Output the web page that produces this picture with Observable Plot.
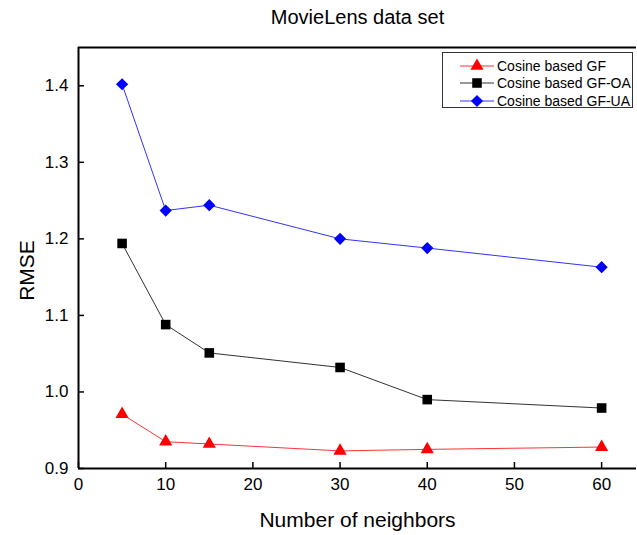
<!DOCTYPE html>
<html>
<head>
<meta charset="utf-8">
<script src="https://cdn.jsdelivr.net/npm/d3@7"></script>
<script src="https://cdn.jsdelivr.net/npm/@observablehq/plot@0.6"></script>
<style>
  html, body { margin: 0; padding: 0; background: #fff; }
  #wrap { position: relative; width: 637px; height: 535px; font-family: "Liberation Sans", Arial, sans-serif; }
  #title { height: 35px; line-height: 35px; text-align: center; font-size: 20px; padding-left: 78px; box-sizing: border-box; width: 637px; color: #000; }
  #legend { position: absolute; left: 442px; top: 52px; width: 191px; height: 56px; border: 1px solid #333; box-sizing: border-box; background: #fff; }
  .li { position: absolute; left: 17px; height: 17px; display: flex; align-items: center; font-size: 14px; color: #000; white-space: nowrap; }
  .li svg { margin-right: 3px; }
</style>
</head>
<body>
<div id="wrap">
  <div id="title">MovieLens data set</div>
  <div id="chart"></div>
  <div id="legend"></div>
</div>
<script>
const neighbors = [5, 10, 15, 30, 40, 60];
const seriesNames = ["Cosine based GF", "Cosine based GF-OA", "Cosine based GF-UA"];
const gf   = [0.971, 0.935, 0.932, 0.923, 0.925, 0.928];
const gfOA = [1.194, 1.088, 1.051, 1.032, 0.990, 0.979];
const gfUA = [1.402, 1.237, 1.244, 1.200, 1.188, 1.163];
const xTicks = [0, 10, 20, 30, 40, 50, 60];
const yTicks = [0.9, 1.0, 1.1, 1.2, 1.3, 1.4];

const lineColors = ["#ff3333", "#333333", "#3333ff"];
const markColors = ["#ff0000", "#000000", "#0000ff"];
const symbols = ["triangle", "square", "diamond2"];
const radii = [4.9, 5.4, 5.5];

const rows = [];
[gf, gfOA, gfUA].forEach((vals, s) => vals.forEach((v, i) => rows.push({series: seriesNames[s], x: neighbors[i], y: v})));

const W = 637, H = 500, mT = 12, mB = 67, mL = 78, mR = 1;
const plotH = H - mT - mB, plotW = W - mL - mR;

const marks = [];
seriesNames.forEach((name, s) => {
  const d = rows.filter(r => r.series === name);
  marks.push(Plot.line(d, {x: "x", y: "y", stroke: lineColors[s], strokeWidth: 1}));
});
seriesNames.forEach((name, s) => {
  const d = rows.filter(r => r.series === name);
  marks.push(Plot.dot(d, {x: "x", y: "y", symbol: () => symbols[s], fill: markColors[s], stroke: "none", r: radii[s]}));
});

const chart = Plot.plot({
  width: W, height: H,
  marginTop: mT, marginBottom: mB, marginLeft: mL, marginRight: mR,
  style: {fontFamily: "'Liberation Sans', Arial, sans-serif", color: "#000", background: "#fff"},
  symbol: {domain: symbols, range: symbols},
  x: {domain: [0, 64], axis: null},
  y: {domain: [0.9, 1.45], axis: null},
  marks: [
    ...marks,
    Plot.tickX(xTicks, {x: d => d, stroke: "#000", strokeWidth: 1.5, insetTop: plotH - 6}),
    Plot.tickY(yTicks, {y: d => d, stroke: "#000", strokeWidth: 1.5, insetRight: plotW - 6}),
    Plot.ruleX([0], {stroke: "#000", strokeWidth: 2}),
    Plot.ruleY([0.9, 1.45], {stroke: "#000", strokeWidth: 2}),
    Plot.axisX(xTicks, {tickSize: 0, tickPadding: 9, fontSize: 17, label: null, tickFormat: d => String(d)}),
    Plot.axisY(yTicks, {tickSize: 0, tickPadding: 10, fontSize: 17, label: null, tickFormat: d => d.toFixed(1)}),
    Plot.text(["Number of neighbors"], {frameAnchor: "bottom", dy: 58, fontSize: 21, textAnchor: "middle", text: d => d}),
    Plot.text(["RMSE"], {frameAnchor: "left", dx: -51, dy: 12.5, rotate: -90, fontSize: 21, textAnchor: "middle", text: d => d})
  ]
});
document.getElementById("chart").appendChild(chart);

const legend = document.getElementById("legend");
seriesNames.forEach((name, s) => {
  const item = document.createElement("div");
  item.className = "li";
  item.style.top = (4 + s * 17.5) + "px";
  const sym = d3.symbol(s === 0 ? d3.symbolTriangle : s === 1 ? d3.symbolSquare : d3.symbolDiamond2, radii[s] * radii[s] * Math.PI)();
  item.innerHTML = `<svg width="34" height="16"><line x1="0" x2="34" y1="8" y2="8" stroke="${lineColors[s]}" stroke-width="1"/><path d="${sym}" transform="translate(17,8)" fill="${markColors[s]}"/></svg>`;
  const t = document.createElement("span");
  t.textContent = name;
  item.appendChild(t);
  legend.appendChild(item);
});
</script>
</body>
</html>
